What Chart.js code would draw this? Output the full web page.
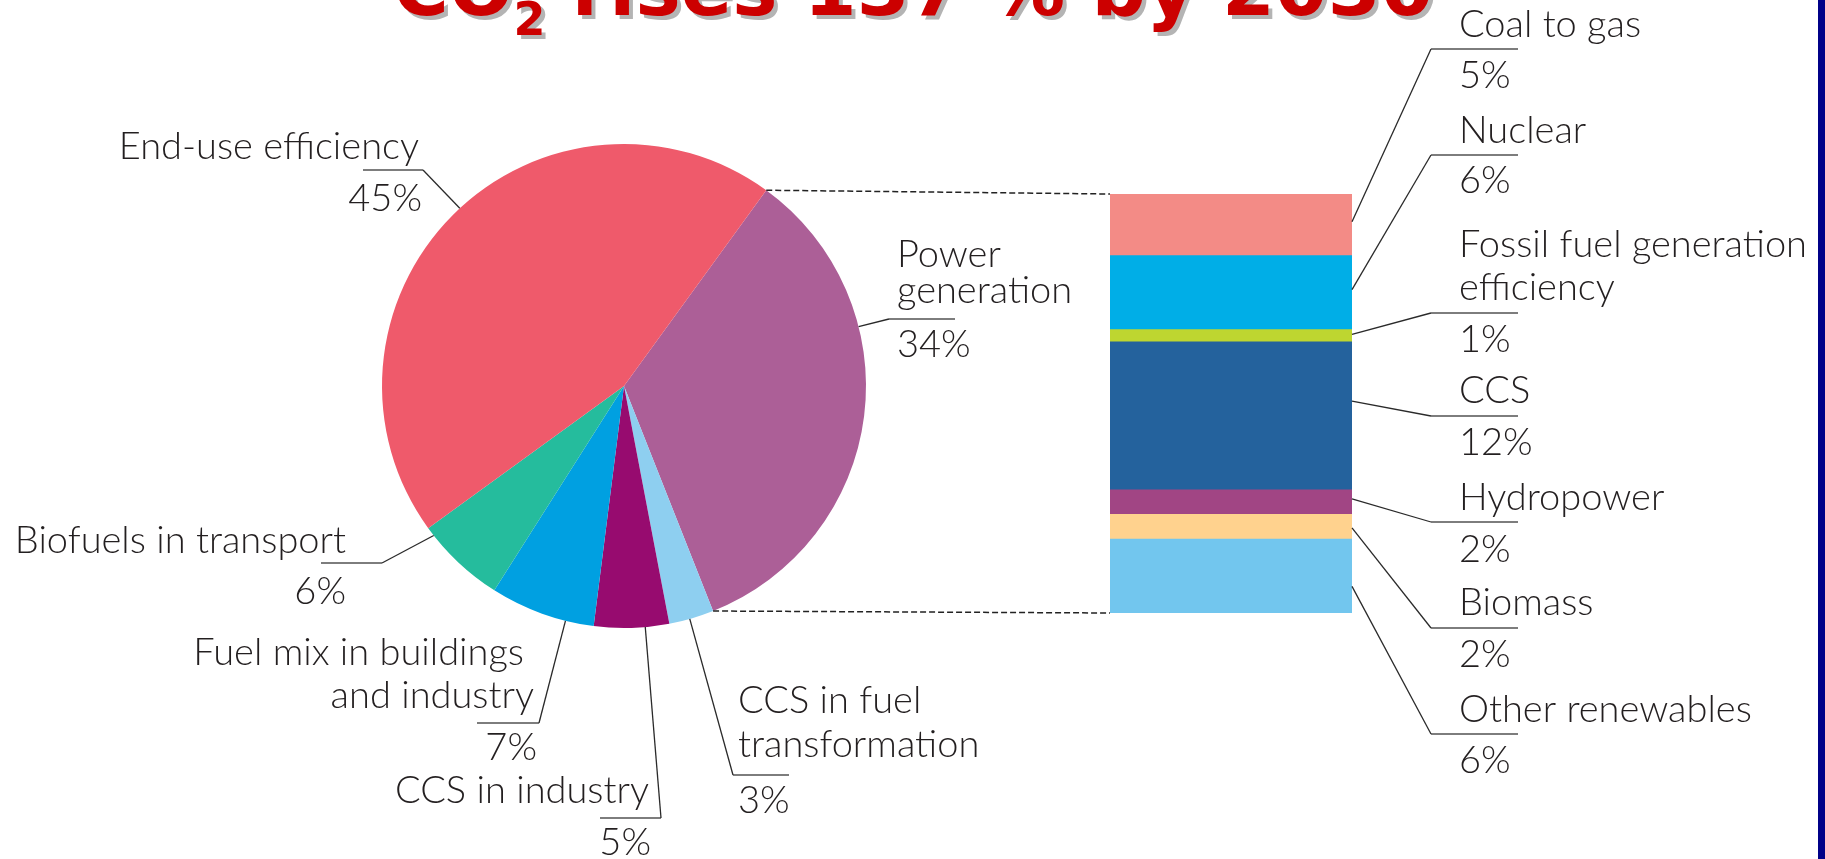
<!DOCTYPE html>
<html>
<head>
<meta charset="utf-8">
<script src="https://cdn.jsdelivr.net/npm/chart.js@4.4.1/dist/chart.umd.min.js"></script>
<style>
  html, body { margin: 0; padding: 0; background: #fff; }
  #page { position: relative; width: 1825px; height: 859px; overflow: hidden; background: #fff; }
  #page canvas { position: absolute; left: 0; top: 0; }
  #title {
    position: absolute; left: 393px; top: -49px; z-index: 5;
    font-family: 'DejaVu Sans', sans-serif; font-weight: bold;
    font-size: 76px; line-height: 76px; color: #cc0000;
    text-shadow: 4px 4px 0 #b4b4b4; white-space: nowrap;
  }
  #title .sub { position: relative; top: 20px; font-size: 46px; }
  #edge { position: absolute; left: 1818px; top: 0; width: 7px; height: 859px; background: #000088; z-index: 5; }
</style>
</head>
<body>
<div id="page">
  <div id="title">CO<span class="sub">2</span> rises 137 % by 2030</div>
  <canvas id="pie" width="1825" height="859"></canvas>
  <canvas id="bar" width="1825" height="859"></canvas>
  <div id="edge"></div>
</div>
<script>
// Pie: share of the CO2 reduction, clockwise from the top right
const pieLabels = ['Power generation', 'CCS in fuel transformation', 'CCS in industry',
                   'Fuel mix in buildings and industry', 'Biofuels in transport', 'End-use efficiency'];
const pieValues = [34, 3, 5, 7, 6, 45];
const pieColors = ['#ac5f97', '#8ecff0', '#970b6f', '#00a0e1', '#25bc9d', '#ef5a6b'];

// Bar: breakdown of power generation, top to bottom
const barLabels = ['Coal to gas', 'Nuclear', 'Fossil fuel generation efficiency', 'CCS',
                   'Hydropower', 'Biomass', 'Other renewables'];
const barValues = [5, 6, 1, 12, 2, 2, 6];
const barColors = ['#f38b86', '#00aee7', '#bed630', '#24629d', '#a14584', '#ffd28e', '#72c6ee'];

// where the call-out texts sit (same order as the data)
const pieLabelLayout = [
  { lines: ['Power', 'generation'], align: 'left', x: 897, y: 267, gap: 36, ul: [889, 955, 319], vy: 357, at: 0.325 },
  { lines: ['CCS in fuel', 'transformation'], align: 'left', x: 738, y: 713, gap: 44, ul: [733, 789, 775], vy: 813, at: 0.54 },
  { lines: ['CCS in industry'], align: 'right', x: 649, y: 803, ul: [600, 661, 818], vx: 651, vy: 855, at: 0.32 },
  { lines: ['Fuel mix in buildings', 'and industry'], align: 'right', xs: [524, 534], y: 665, gap: 43, ul: [477, 539, 723], vx: 537, vy: 760, at: 0.27 },
  { lines: ['Biofuels in transport'], align: 'right', x: 346, y: 553, ul: [321, 382, 563], vy: 604, at: 0.9 },
  { lines: ['End-use efficiency'], align: 'right', x: 419, y: 159, ul: [363, 423, 170], vx: 422, vy: 211, at: 0.514 }
];
const barLabelLayout = [
  { lines: ['Coal to gas'], y: 37, ul: 49, vy: 88, at: 0.45 },
  { lines: ['Nuclear'], y: 143, ul: 155, vy: 193, at: 0.46 },
  { lines: ['Fossil fuel generation', 'efficiency'], y: 257, gap: 43, ul: 313, vy: 352, at: 0.4 },
  { lines: ['CCS'], y: 403, ul: 416, vy: 455, at: 0.4 },
  { lines: ['Hydropower'], y: 510, ul: 522, vy: 562, at: 0.37 },
  { lines: ['Biomass'], y: 615, ul: 628, vy: 667, at: 0.55 },
  { lines: ['Other renewables'], y: 722, ul: 734, vy: 773, at: 0.64 }
];

const labelFont = '300 38px Lato, sans-serif';

// draws one call-out: text lines, grey underline, value, and leader line to (ax, ay)
function drawCallout(ctx, lab, value, ux1, ux2, uy, tipX, ax, ay) {
  ctx.save();
  ctx.font = labelFont;
  ctx.fillStyle = '#231f20';
  ctx.textAlign = lab.align || 'left';
  ctx.textBaseline = 'alphabetic';
  lab.lines.forEach((t, k) => {
    const tx = lab.xs ? lab.xs[k] : lab.x;
    ctx.fillText(t, tx, lab.y + k * (lab.gap || 0));
  });
  ctx.fillText(value + '%', lab.vx || lab.x, lab.vy);

  ctx.strokeStyle = '#7d7d7d';
  ctx.lineWidth = 2;
  ctx.beginPath();
  ctx.moveTo(ux1, uy);
  ctx.lineTo(ux2, uy);
  ctx.stroke();

  ctx.strokeStyle = '#2a2a2a';
  ctx.lineWidth = 1.3;
  ctx.beginPath();
  ctx.moveTo(tipX, uy);
  ctx.lineTo(ax, ay);
  ctx.stroke();
  ctx.restore();
}

const pieCallouts = {
  id: 'pieCallouts',
  afterDraw(chart) {
    const ctx = chart.ctx;
    const arcs = chart.getDatasetMeta(0).data;
    arcs.forEach((arc, i) => {
      const lab = pieLabelLayout[i];
      const p = arc.getProps(['x', 'y', 'startAngle', 'endAngle', 'outerRadius'], true);
      const a = p.startAngle + lab.at * (p.endAngle - p.startAngle);
      const ax = p.x + p.outerRadius * Math.cos(a);
      const ay = p.y + p.outerRadius * Math.sin(a);
      const tip = lab.align === 'right' ? lab.ul[1] : lab.ul[0];
      drawCallout(ctx, lab, pieValues[i], lab.ul[0], lab.ul[1], lab.ul[2], tip, ax, ay);
    });
  }
};

const pieChart = new Chart(document.getElementById('pie'), {
  type: 'pie',
  data: {
    labels: pieLabels,
    datasets: [{ data: pieValues, backgroundColor: pieColors, borderWidth: 0 }]
  },
  options: {
    responsive: false,
    animation: false,
    events: [],
    rotation: 36,
    layout: { padding: { left: 382, right: 959, top: 144, bottom: 231 } },
    plugins: { legend: { display: false }, tooltip: { enabled: false } }
  },
  plugins: [pieCallouts]
});

// stacked bar: first dataset sits at the bottom, so build bottom-up
const barDatasets = barLabels.map((name, i) => ({
  label: name,
  data: [barValues[i]],
  backgroundColor: barColors[i],
  borderWidth: 0,
  barPercentage: 1,
  categoryPercentage: 1
})).reverse();

const barCallouts = {
  id: 'barCallouts',
  afterDraw(chart) {
    const ctx = chart.ctx;
    const n = barLabels.length;
    let barLeft = 0, barTop = Infinity, barBottom = -Infinity;
    barLabels.forEach((name, i) => {
      const el = chart.getDatasetMeta(n - 1 - i).data[0];
      const top = Math.min(el.y, el.base), bottom = Math.max(el.y, el.base);
      barLeft = el.x - el.width / 2;
      barTop = Math.min(barTop, top);
      barBottom = Math.max(barBottom, bottom);
      const lab = Object.assign({ align: 'left', x: 1459 }, barLabelLayout[i]);
      const ax = el.x + el.width / 2;
      const ay = top + lab.at * (bottom - top);
      drawCallout(ctx, lab, barValues[i], 1431, 1518, lab.ul, 1431, ax, ay);
    });

    // dashed links from the power generation slice to the bar
    const arc = pieChart.getDatasetMeta(0).data[0];
    const p = arc.getProps(['x', 'y', 'startAngle', 'endAngle', 'outerRadius'], true);
    ctx.save();
    ctx.strokeStyle = '#222';
    ctx.lineWidth = 1.5;
    ctx.setLineDash([6, 3]);
    ctx.beginPath();
    ctx.moveTo(p.x + p.outerRadius * Math.cos(p.startAngle), p.y + p.outerRadius * Math.sin(p.startAngle));
    ctx.lineTo(barLeft, barTop);
    ctx.moveTo(p.x + p.outerRadius * Math.cos(p.endAngle), p.y + p.outerRadius * Math.sin(p.endAngle));
    ctx.lineTo(barLeft, barBottom);
    ctx.stroke();
    ctx.restore();
  }
};

new Chart(document.getElementById('bar'), {
  type: 'bar',
  data: { labels: ['Power generation'], datasets: barDatasets },
  options: {
    responsive: false,
    animation: false,
    events: [],
    layout: { padding: { left: 1110, right: 473, top: 194, bottom: 246 } },
    scales: {
      x: { stacked: true, display: false },
      y: { stacked: true, display: false, min: 0, max: 34 }
    },
    plugins: { legend: { display: false }, tooltip: { enabled: false } }
  },
  plugins: [barCallouts]
});
</script>
</body>
</html>
